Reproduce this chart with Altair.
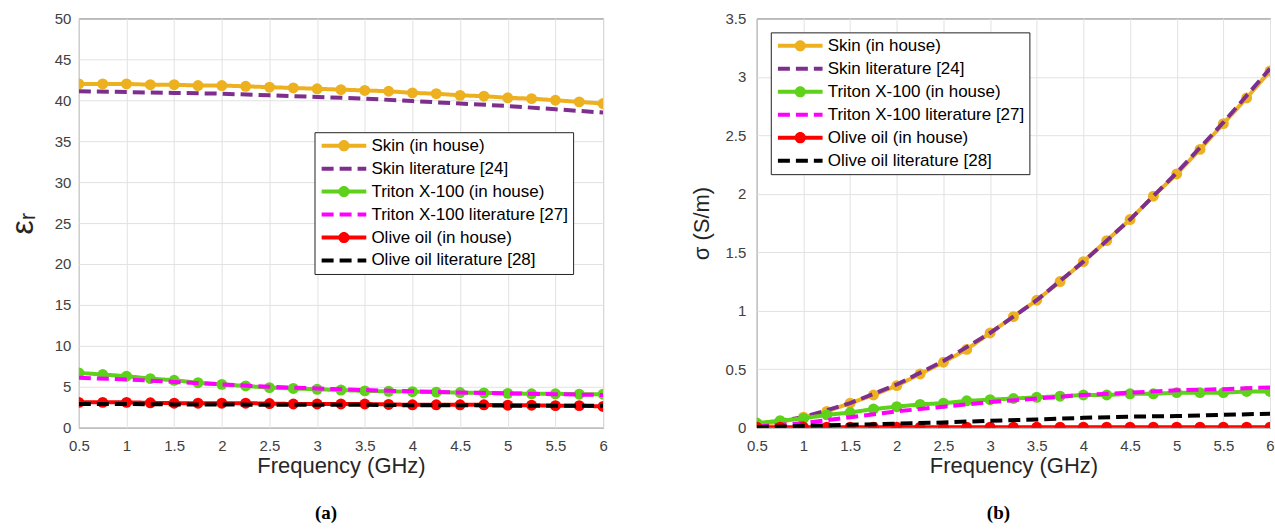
import altair as alt
import pandas as pd

# ---------------- data ----------------
names = ["Skin (in house)", "Skin literature [24]", "Triton X-100 (in house)",
         "Triton X-100 literature [27]", "Olive oil (in house)", "Olive oil literature [28]"]
colors = ["#EDB120", "#7E2F8E", "#5ED11B", "#FF00FF", "#FF0000", "#000000"]
in_house = [True, False, True, False, True, False]

freq_house = [0.5, 0.75, 1.0, 1.25, 1.5, 1.75, 2.0, 2.25, 2.5, 2.75, 3.0, 3.25,
              3.5, 3.75, 4.0, 4.25, 4.5, 4.75, 5.0, 5.25, 5.5, 5.75, 6.0]
freq_lit = [0.5, 1.0, 1.5, 2.0, 2.5, 3.0, 3.5, 4.0, 4.5, 5.0, 5.5, 6.0]

# relative permittivity (a)
eps_skin_house = [42.0, 42.0, 42.0, 41.9, 41.9, 41.8, 41.8, 41.7, 41.6, 41.5, 41.4, 41.3,
                  41.2, 41.1, 40.9, 40.8, 40.6, 40.5, 40.3, 40.2, 40.0, 39.8, 39.6]
eps_skin_lit = [41.1, 41.0, 40.9, 40.8, 40.6, 40.4, 40.2, 39.9, 39.6, 39.3, 38.9, 38.5]
eps_triton_house = [6.7, 6.5, 6.3, 6.0, 5.8, 5.5, 5.3, 5.1, 4.9, 4.8, 4.7, 4.6,
                    4.5, 4.45, 4.4, 4.35, 4.3, 4.25, 4.2, 4.15, 4.15, 4.1, 4.1]
eps_triton_lit = [6.1, 5.9, 5.6, 5.3, 5.0, 4.8, 4.6, 4.45, 4.3, 4.2, 4.1, 4.0]
eps_olive_house = [3.1, 3.1, 3.1, 3.05, 3.0, 3.0, 3.0, 3.0, 2.95, 2.9, 2.9, 2.9,
                   2.9, 2.85, 2.8, 2.8, 2.8, 2.8, 2.75, 2.75, 2.7, 2.7, 2.6]
eps_olive_lit = [2.9, 2.9, 2.85, 2.85, 2.8, 2.8, 2.8, 2.75, 2.75, 2.7, 2.7, 2.7]

# conductivity (b)
sig_skin_house = [0.03, 0.05, 0.09, 0.14, 0.21, 0.28, 0.36, 0.46, 0.56, 0.67, 0.81, 0.95,
                  1.09, 1.25, 1.42, 1.60, 1.78, 1.98, 2.17, 2.38, 2.60, 2.82, 3.05]
sig_skin_lit = [0.03, 0.09, 0.21, 0.37, 0.57, 0.81, 1.09, 1.42, 1.78, 2.18, 2.61, 3.07]
sig_triton_house = [0.04, 0.06, 0.08, 0.11, 0.13, 0.16, 0.18, 0.20, 0.21, 0.23, 0.24, 0.25,
                    0.26, 0.27, 0.28, 0.28, 0.29, 0.29, 0.30, 0.30, 0.30, 0.31, 0.31]
sig_triton_lit = [0.01, 0.04, 0.09, 0.14, 0.18, 0.22, 0.25, 0.28, 0.30, 0.32, 0.33, 0.345]
sig_olive_house = [0.005, 0.005, 0.005, 0.005, 0.005, 0.005, 0.005, 0.005, 0.005, 0.005, 0.005, 0.005,
                   0.005, 0.005, 0.005, 0.005, 0.005, 0.005, 0.005, 0.005, 0.005, 0.005, 0.005]
sig_olive_lit = [0.005, 0.015, 0.025, 0.035, 0.045, 0.06, 0.07, 0.085, 0.095, 0.10, 0.11, 0.12]

x_ticks = [0.5, 1, 1.5, 2, 2.5, 3, 3.5, 4, 4.5, 5, 5.5, 6]
eps_ticks = [0, 5, 10, 15, 20, 25, 30, 35, 40, 45, 50]
sig_ticks = [0, 0.5, 1, 1.5, 2, 2.5, 3, 3.5]

FONT = "Liberation Sans"
marker_names = [n + " " for n in names]
dashes = [[1, 0] if h else [12, 6] for h in in_house]
fills = [c if h else "transparent" for c, h in zip(colors, in_house)]


def make_df(series_values):
    rows = []
    for name, vals, house in zip(names, series_values, in_house):
        fr = freq_house if house else freq_lit
        for f, v in zip(fr, vals):
            rows.append({"freq": f, "value": v, "series": name, "mkey": name + " "})
    return pd.DataFrame(rows)


def panel(df, width, ytitle, ytitle_size, ytitle_pad, ydomain, yticks, lx, ly, caption, cap_dx, label_pad):
    color_scale = alt.Scale(domain=names, range=colors)
    dash_scale = alt.Scale(domain=names, range=dashes)
    fill_scale = alt.Scale(domain=marker_names, range=fills)
    common = dict(orient="none", legendX=lx, legendY=ly, title=None,
                  labelFont=FONT, labelFontSize=17, rowPadding=5, padding=5,
                  clipHeight=17, symbolSize=2000, labelLimit=0, labelOffset=3,
                  symbolStrokeWidth=4)
    leg1 = alt.Legend(symbolType="stroke", labelColor="black",
                      strokeColor="#222222", fillColor="white", zindex=1, **common)
    leg2 = alt.Legend(symbolType="M0,-0.25A0.25,0.25 0 1,1 0,0.25A0.25,0.25 0 1,1 0,-0.25Z",
                      symbolStrokeColor="transparent", symbolOpacity=1,
                      labelExpr="''", zindex=2, **common)
    x = alt.X("freq:Q", scale=alt.Scale(domain=[0.5, 6], nice=False),
              axis=alt.Axis(values=x_ticks, format="~g", title="Frequency (GHz)",
                            titleFontSize=22, titlePadding=2, labelPadding=11, labelFlush=False))
    y = alt.Y("value:Q", scale=alt.Scale(domain=ydomain, nice=False),
              axis=alt.Axis(values=yticks, format="~g", title=ytitle, titleFontSize=ytitle_size,
                            labelPadding=label_pad, titlePadding=ytitle_pad))
    layers = []
    for name, house in zip(names, in_house):
        base = alt.Chart(df).transform_filter(alt.datum.series == name)
        layers.append(base.mark_line(strokeWidth=4, clip=True).encode(
            x=x, y=y,
            color=alt.Color("series:N", scale=color_scale, legend=leg1),
            strokeDash=alt.StrokeDash("series:N", scale=dash_scale, legend=leg1)))
        if house:
            layers.append(base.mark_point(filled=True, size=120, opacity=1, strokeWidth=0, clip=True).encode(
                x=x, y=y,
                fill=alt.Fill("mkey:N", scale=fill_scale, legend=leg2)))
    return alt.layer(*layers).properties(
        width=width, height=410,
        title=alt.TitleParams(text=caption, orient="bottom", font="Liberation Serif", fontSize=19,
                              fontWeight="bold", color="black", offset=27, dx=cap_dx))


left = panel(make_df([eps_skin_house, eps_skin_lit, eps_triton_house, eps_triton_lit,
                      eps_olive_house, eps_olive_lit]),
             525, "εᵣ", 32, 15, [0, 50], eps_ticks, 236, 114, "(a)", -15, 8)
right = panel(make_df([sig_skin_house, sig_skin_lit, sig_triton_house, sig_triton_lit,
                       sig_olive_house, sig_olive_lit]),
              514, "σ (S/m)", 22, 12, [0, 3.5], sig_ticks, 14, 14, "(b)", -15, 11)

chart = alt.hconcat(left, right, spacing=154, bounds="flush").resolve_scale(
    color="independent", strokeDash="independent", fill="independent"
).resolve_legend(
    color="independent", strokeDash="independent", fill="independent"
).properties(
    padding={"left": 5, "top": 10, "right": 0, "bottom": 5}
).configure(font=FONT, background="white").configure_view(
    stroke="#262626", strokeWidth=1
).configure_axis(
    grid=True, gridColor="#e2e2e2", gridWidth=1, domain=False, ticks=False,
    labelFont=FONT, labelFontSize=15, labelColor="#404040",
    titleFont=FONT, titleColor="#262626", titleFontWeight="normal"
)

chart.save("out.html", embed_options={"renderer": "svg", "actions": False})
